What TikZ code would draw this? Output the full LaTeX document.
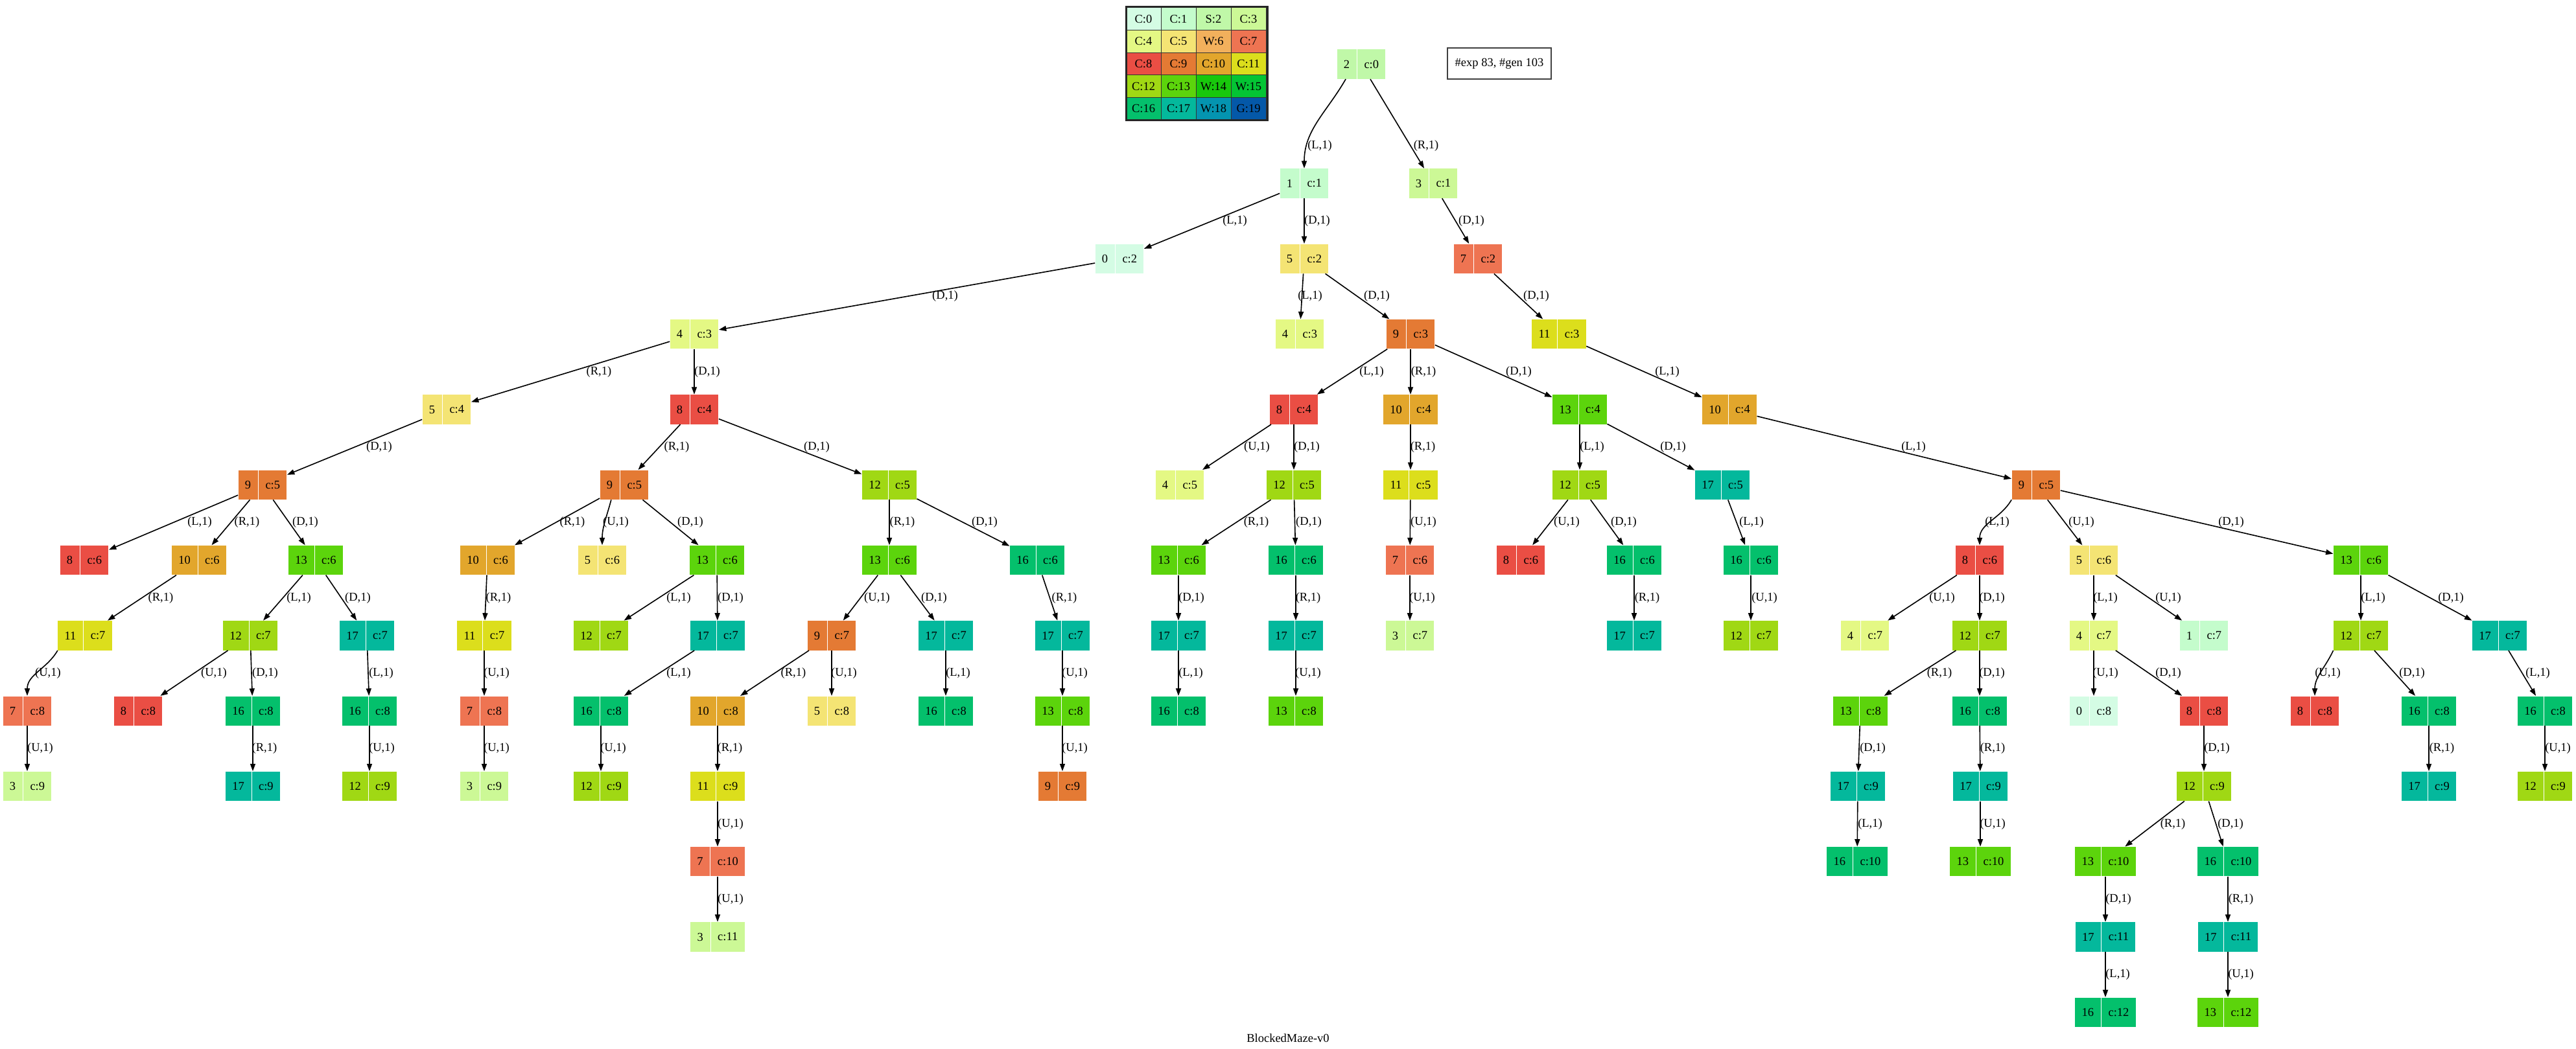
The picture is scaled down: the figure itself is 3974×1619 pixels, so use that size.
\documentclass[tikz,border=0pt]{standalone}
\usepackage{fontspec}
\setmainfont{Liberation Serif}
\usetikzlibrary{shapes.multipart,arrows.meta}
\definecolor{col0}{RGB}{212,252,228}
\definecolor{col1}{RGB}{196,252,204}
\definecolor{col2}{RGB}{192,248,168}
\definecolor{col3}{RGB}{204,248,150}
\definecolor{col4}{RGB}{228,248,132}
\definecolor{col5}{RGB}{244,228,116}
\definecolor{col6}{RGB}{242,176,92}
\definecolor{col7}{RGB}{238,116,82}
\definecolor{col8}{RGB}{234,78,68}
\definecolor{col9}{RGB}{228,122,52}
\definecolor{col10}{RGB}{226,166,44}
\definecolor{col11}{RGB}{220,222,28}
\definecolor{col12}{RGB}{160,216,20}
\definecolor{col13}{RGB}{92,212,12}
\definecolor{col14}{RGB}{24,200,12}
\definecolor{col15}{RGB}{4,196,52}
\definecolor{col16}{RGB}{4,192,108}
\definecolor{col17}{RGB}{4,184,156}
\definecolor{col18}{RGB}{4,148,176}
\definecolor{col19}{RGB}{4,88,168}
\tikzset{
  txt/.style={font=\fontsize{7.4}{8.9}\selectfont},
  recnode/.style={txt, rectangle split, rectangle split horizontal, rectangle split parts=2,
    draw=white, line width=0.35pt, inner xsep=4.3pt, inner ysep=6.7pt, outer sep=0pt,
    text height=5pt, text depth=0pt},
  edgestyle/.style={draw=black, line width=0.65pt, -{Triangle[length=4.6pt,width=3.2pt]}},
  lbl/.style={txt, inner sep=0pt},
  legcell/.style={txt, draw=black!80, line width=0.4pt, minimum width=21.6pt, minimum height=13.84pt, inner sep=0pt}
}
\newcommand\mkrec[4]{\node[recnode, rectangle split part fill={col#3,col#3}] (#1) at (#2,{283+116.3*(#4-1)}) {#3\nodepart{two}c:#4};}
\newcommand\ed[5]{\draw[edgestyle] (#1) -- (#2); \node[lbl] (L#1to#2) at (#4,{283+116.3*(#5-1.5)}) {#3};}
\newcommand\lbonly[5]{\node[lbl] (L#1to#2) at (#4,{283+116.3*(#5-1.5)}) {#3};}
\newcommand\mklegcell[4]{\node[legcell, fill=col#1] (lg#1) at (#2,#3) {#4:#1};}
\begin{document}
\begin{tikzpicture}[x=0.4pt,y=-0.4pt]
\useasboundingbox (0,0) rectangle (3974,1619);
\fill[white] (0,0) rectangle (3974,1619);
% legend
\mklegcell{0}{1764}{29.3}{C}
\mklegcell{1}{1818}{29.3}{C}
\mklegcell{2}{1872}{29.3}{S}
\mklegcell{3}{1926}{29.3}{C}
\mklegcell{4}{1764}{63.9}{C}
\mklegcell{5}{1818}{63.9}{C}
\mklegcell{6}{1872}{63.9}{W}
\mklegcell{7}{1926}{63.9}{C}
\mklegcell{8}{1764}{98.5}{C}
\mklegcell{9}{1818}{98.5}{C}
\mklegcell{10}{1872}{98.5}{C}
\mklegcell{11}{1926}{98.5}{C}
\mklegcell{12}{1764}{133.1}{C}
\mklegcell{13}{1818}{133.1}{C}
\mklegcell{14}{1872}{133.1}{W}
\mklegcell{15}{1926}{133.1}{W}
\mklegcell{16}{1764}{167.7}{C}
\mklegcell{17}{1818}{167.7}{C}
\mklegcell{18}{1872}{167.7}{W}
\mklegcell{19}{1926}{167.7}{G}
\draw[black!85, line width=1.2pt] (1737,11) rectangle (1955,186);
% info box
\node[txt, draw=black!75, line width=0.8pt, minimum width=64pt, minimum height=19.2pt, inner sep=0pt] (info) at (2313,98.5) {\#exp 83, \#gen 103};
% title
\node[txt, inner sep=0pt] (title) at (1987,1602) {BlockedMaze-v0};
% nodes
\node[recnode, rectangle split part fill={col2,col2}] (r0) at (2100,99) {2\nodepart{two}c:0};
\mkrec{a1}{2012}{1}{1}
\mkrec{b1}{2211}{3}{1}
\mkrec{a2}{1727}{0}{2}
\mkrec{b2}{2012}{5}{2}
\mkrec{c2}{2280}{7}{2}
\mkrec{a3}{1071}{4}{3}
\mkrec{b3}{2005}{4}{3}
\mkrec{c3}{2176}{9}{3}
\mkrec{d3}{2405}{11}{3}
\mkrec{a4}{689}{5}{4}
\mkrec{b4}{1071}{8}{4}
\mkrec{c4}{1996}{8}{4}
\mkrec{d4}{2176}{10}{4}
\mkrec{e4}{2437}{13}{4}
\mkrec{f4}{2668}{10}{4}
\mkrec{a5}{405}{9}{5}
\mkrec{b5}{963}{9}{5}
\mkrec{c5}{1372}{12}{5}
\mkrec{d5}{1820}{4}{5}
\mkrec{e5}{1996}{12}{5}
\mkrec{f5}{2176}{11}{5}
\mkrec{g5}{2437}{12}{5}
\mkrec{h5}{2657}{17}{5}
\mkrec{i5}{3141}{9}{5}
\mkrec{a6}{130}{8}{6}
\mkrec{b6}{307}{10}{6}
\mkrec{c6}{487}{13}{6}
\mkrec{d6}{752}{10}{6}
\mkrec{e6}{929}{5}{6}
\mkrec{f6}{1106}{13}{6}
\mkrec{g6}{1372}{13}{6}
\mkrec{h6}{1600}{16}{6}
\mkrec{i6}{1818}{13}{6}
\mkrec{j6}{1999}{16}{6}
\mkrec{k6}{2175}{7}{6}
\mkrec{l6}{2346}{8}{6}
\mkrec{m6}{2521}{16}{6}
\mkrec{n6}{2701}{16}{6}
\mkrec{o6}{3054}{8}{6}
\mkrec{p6}{3230}{5}{6}
\mkrec{q6}{3642}{13}{6}
\mkrec{a7}{131}{11}{7}
\mkrec{b7}{386}{12}{7}
\mkrec{c7}{566}{17}{7}
\mkrec{d7}{747}{11}{7}
\mkrec{e7}{927}{12}{7}
\mkrec{f7}{1107}{17}{7}
\mkrec{g7}{1283}{9}{7}
\mkrec{h7}{1459}{17}{7}
\mkrec{i7}{1639}{17}{7}
\mkrec{j7}{1818}{17}{7}
\mkrec{k7}{1999}{17}{7}
\mkrec{l7}{2175}{3}{7}
\mkrec{m7}{2521}{17}{7}
\mkrec{n7}{2701}{12}{7}
\mkrec{o7}{2877}{4}{7}
\mkrec{p7}{3054}{12}{7}
\mkrec{q7}{3230}{4}{7}
\mkrec{r7}{3400}{1}{7}
\mkrec{s7}{3642}{12}{7}
\mkrec{t7}{3856}{17}{7}
\mkrec{a8}{42}{7}{8}
\mkrec{b8}{213}{8}{8}
\mkrec{c8}{390}{16}{8}
\mkrec{d8}{570}{16}{8}
\mkrec{e8}{747}{7}{8}
\mkrec{f8}{927}{16}{8}
\mkrec{g8}{1107}{10}{8}
\mkrec{h8}{1283}{5}{8}
\mkrec{i8}{1459}{16}{8}
\mkrec{j8}{1639}{13}{8}
\mkrec{k8}{1818}{16}{8}
\mkrec{l8}{1999}{13}{8}
\mkrec{m8}{2870}{13}{8}
\mkrec{n8}{3054}{16}{8}
\mkrec{o8}{3230}{0}{8}
\mkrec{p8}{3400}{8}{8}
\mkrec{q8}{3571}{8}{8}
\mkrec{r8}{3747}{16}{8}
\mkrec{s8}{3926}{16}{8}
\mkrec{a9}{42}{3}{9}
\mkrec{b9}{390}{17}{9}
\mkrec{c9}{570}{12}{9}
\mkrec{d9}{747}{3}{9}
\mkrec{e9}{927}{12}{9}
\mkrec{f9}{1107}{11}{9}
\mkrec{g9}{1639}{9}{9}
\mkrec{h9}{2866}{17}{9}
\mkrec{i9}{3055}{17}{9}
\mkrec{j9}{3400}{12}{9}
\mkrec{k9}{3747}{17}{9}
\mkrec{l9}{3926}{12}{9}
\mkrec{a10}{1107}{7}{10}
\mkrec{b10}{2865}{16}{10}
\mkrec{c10}{3055}{13}{10}
\mkrec{d10}{3248}{13}{10}
\mkrec{e10}{3437}{16}{10}
\mkrec{a11}{1107}{3}{11}
\mkrec{b11}{3248}{17}{11}
\mkrec{c11}{3437}{17}{11}
\mkrec{a12}{3248}{16}{12}
\mkrec{b12}{3437}{13}{12}
% edges
\draw[edgestyle] (r0.-136) to[out=-120,in=90] (a1);
\lbonly{r0}{a1}{(L,1)}{2036}{1}
\ed{r0}{b1}{(R,1)}{2200}{1}
\ed{a1}{a2}{(L,1)}{1905}{2}
\ed{a1}{b2}{(D,1)}{2032}{2}
\ed{b1}{c2}{(D,1)}{2270}{2}
\ed{a2}{a3}{(D,1)}{1458}{3}
\ed{b2}{b3}{(L,1)}{2021}{3}
\ed{b2}{c3}{(D,1)}{2124}{3}
\ed{c2}{d3}{(D,1)}{2370}{3}
\ed{a3}{a4}{(R,1)}{924}{4}
\ed{a3}{b4}{(D,1)}{1091}{4}
\ed{c3}{c4}{(L,1)}{2116}{4}
\ed{c3}{d4}{(R,1)}{2196}{4}
\ed{c3}{e4}{(D,1)}{2343}{4}
\ed{d3}{f4}{(L,1)}{2572}{4}
\ed{a4}{a5}{(D,1)}{585}{5}
\ed{b4}{b5}{(R,1)}{1044}{5}
\ed{b4}{c5}{(D,1)}{1260}{5}
\ed{c4}{d5}{(U,1)}{1939}{5}
\ed{c4}{e5}{(D,1)}{2016}{5}
\ed{d4}{f5}{(R,1)}{2195}{5}
\ed{e4}{g5}{(L,1)}{2456}{5}
\ed{e4}{h5}{(D,1)}{2581}{5}
\ed{f4}{i5}{(L,1)}{2952}{5}
\ed{a5}{a6}{(L,1)}{308}{6}
\ed{a5}{b6}{(R,1)}{381}{6}
\ed{a5}{c6}{(D,1)}{471}{6}
\ed{b5}{d6}{(R,1)}{883}{6}
\draw[edgestyle] (b5.-131) to[out=-105,in=90] (e6);
\lbonly{b5}{e6}{(U,1)}{950}{6}
\ed{b5}{f6}{(D,1)}{1065}{6}
\ed{c5}{g6}{(R,1)}{1392}{6}
\ed{c5}{h6}{(D,1)}{1519}{6}
\ed{e5}{i6}{(R,1)}{1938}{6}
\ed{e5}{j6}{(D,1)}{2019}{6}
\ed{f5}{k6}{(U,1)}{2196}{6}
\ed{g5}{l6}{(U,1)}{2417}{6}
\ed{g5}{m6}{(D,1)}{2505}{6}
\ed{h5}{n6}{(L,1)}{2702}{6}
\draw[edgestyle] (i5.south west) to[out=-120,in=90] (o6);
\lbonly{i5}{o6}{(L,1)}{3081}{6}
\ed{i5}{p6}{(U,1)}{3211}{6}
\ed{i5}{q6}{(D,1)}{3442}{6}
\ed{b6}{a7}{(R,1)}{248}{7}
\ed{c6}{b7}{(L,1)}{461}{7}
\ed{c6}{c7}{(D,1)}{552}{7}
\ed{d6}{d7}{(R,1)}{769}{7}
\ed{f6}{e7}{(L,1)}{1047}{7}
\ed{f6}{f7}{(D,1)}{1127}{7}
\ed{g6}{g7}{(U,1)}{1353}{7}
\ed{g6}{h7}{(D,1)}{1441}{7}
\ed{h6}{i7}{(R,1)}{1642}{7}
\ed{i6}{j7}{(D,1)}{1838}{7}
\ed{j6}{k7}{(R,1)}{2018}{7}
\ed{k6}{l7}{(U,1)}{2194}{7}
\ed{m6}{m7}{(R,1)}{2541}{7}
\ed{n6}{n7}{(U,1)}{2722}{7}
\ed{o6}{o7}{(U,1)}{2996}{7}
\ed{o6}{p7}{(D,1)}{3073}{7}
\ed{p6}{q7}{(L,1)}{3248}{7}
\ed{p6}{r7}{(U,1)}{3345}{7}
\ed{q6}{s7}{(L,1)}{3661}{7}
\ed{q6}{t7}{(D,1)}{3781}{7}
\draw[edgestyle] (a7.south west) to[out=-120,in=90] (a8);
\lbonly{a7}{a8}{(U,1)}{74}{8}
\ed{b7}{b8}{(U,1)}{330}{8}
\ed{b7}{c8}{(D,1)}{409}{8}
\ed{c7}{d8}{(L,1)}{588}{8}
\ed{d7}{e8}{(U,1)}{766}{8}
\ed{f7}{f8}{(L,1)}{1047}{8}
\ed{g7}{g8}{(R,1)}{1224}{8}
\ed{g7}{h8}{(U,1)}{1302}{8}
\ed{h7}{i8}{(L,1)}{1478}{8}
\ed{i7}{j8}{(U,1)}{1658}{8}
\ed{j7}{k8}{(L,1)}{1837}{8}
\ed{k7}{l8}{(U,1)}{2018}{8}
\ed{p7}{m8}{(R,1)}{2992}{8}
\ed{p7}{n8}{(D,1)}{3073}{8}
\ed{q7}{o8}{(U,1)}{3248}{8}
\ed{q7}{p8}{(D,1)}{3345}{8}
\draw[edgestyle] (s7.south west) to[out=-115,in=90] (q8.north);
\lbonly{s7}{q8}{(U,1)}{3591}{8}
\ed{s7}{r8}{(D,1)}{3721}{8}
\ed{t7}{s8}{(L,1)}{3915}{8}
\ed{a8}{a9}{(U,1)}{62}{9}
\ed{c8}{b9}{(R,1)}{408}{9}
\ed{d8}{c9}{(U,1)}{589}{9}
\ed{e8}{d9}{(U,1)}{766}{9}
\ed{f8}{e9}{(U,1)}{946}{9}
\ed{g8}{f9}{(R,1)}{1126}{9}
\ed{j8}{g9}{(U,1)}{1658}{9}
\ed{m8}{h9}{(D,1)}{2889}{9}
\ed{n8}{i9}{(R,1)}{3074}{9}
\ed{p8}{j9}{(D,1)}{3420}{9}
\ed{r8}{k9}{(R,1)}{3767}{9}
\ed{s8}{l9}{(U,1)}{3946}{9}
\ed{f9}{a10}{(U,1)}{1127}{10}
\ed{h9}{b10}{(L,1)}{2885}{10}
\ed{i9}{c10}{(U,1)}{3074}{10}
\ed{j9}{d10}{(R,1)}{3352}{10}
\ed{j9}{e10}{(D,1)}{3441}{10}
\ed{a10}{a11}{(U,1)}{1127}{11}
\ed{d10}{b11}{(D,1)}{3268}{11}
\ed{e10}{c11}{(R,1)}{3457}{11}
\ed{b11}{a12}{(L,1)}{3267}{12}
\ed{c11}{b12}{(U,1)}{3457}{12}
\end{tikzpicture}
\end{document}
